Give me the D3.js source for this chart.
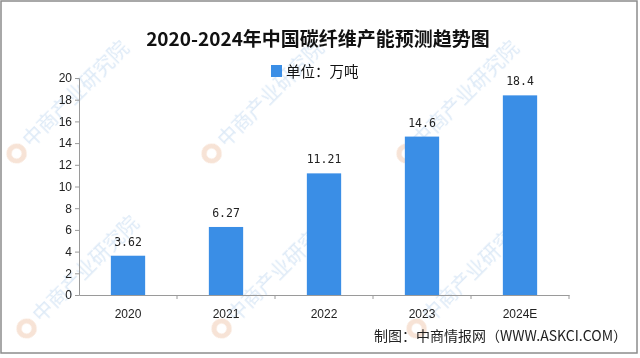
<!DOCTYPE html>
<html><head><meta charset="utf-8">
<script src="https://cdn.jsdelivr.net/npm/d3@7"></script>
<style>html,body{margin:0;padding:0;background:#fff;}</style>
</head><body>
<svg id="c" width="640" height="358"></svg>
<script>
const categories = ["2020", "2021", "2022", "2023", "2024E"];
const values = [3.62, 6.27, 11.21, 14.6, 18.4];
const valueLabels = ["3.62", "6.27", "11.21", "14.6", "18.4"];
const yTicks = [0, 2, 4, 6, 8, 10, 12, 14, 16, 18, 20];
const title = "2020-2024年中国碳纤维产能预测趋势图";
const legendLabel = "单位：万吨";
const source = "制图：中商情报网（WWW.ASKCI.COM）";
const watermark = "中商产业研究院";

const svg = d3.select("#c");
const W = 640, H = 358;
const m = {left: 79, right: 71, top: 78, bottom: 63};
const barColor = "#3a8ee6";
const axisColor = "#9a9a9a";
const cjk = "'Noto Sans CJK SC', sans-serif";

svg.append("rect").attr("x", 0).attr("y", 0).attr("width", W).attr("height", H).attr("fill", "#fff");

// watermarks (kept inside the frame)
const wm = svg.append("g").attr("opacity", 0.35)
  .attr("font-family", cjk).attr("font-size", 20);
const wmPos = [[30,150],[225,150],[420,150],[40,325],[235,325],[430,325]];
wmPos.forEach(([x,y]) => {
  const g = wm.append("g").attr("transform", `translate(${x},${y}) rotate(-45)`);
  g.append("path").attr("d", d3.arc()({innerRadius: 5, outerRadius: 10, startAngle: 0.6, endAngle: 2.6 * Math.PI - 0.6}))
    .attr("transform", "translate(-12,-7)").attr("fill", "#e9b08a");
  g.append("text").attr("x", 2).attr("y", 0).attr("fill", "#9fc3e8").text(watermark);
});

const x = d3.scaleBand().domain(categories).range([m.left, W - m.right])
  .paddingInner(0.65).paddingOuter(0.325);
const y = d3.scaleLinear().domain([0, 20]).range([H - m.bottom, m.top]);

// bars
svg.append("g").selectAll("rect").data(values).join("rect")
  .attr("x", (d, i) => x(categories[i]))
  .attr("y", d => y(d))
  .attr("width", x.bandwidth())
  .attr("height", d => y(0) - y(d))
  .attr("fill", barColor);

// value labels
svg.append("g").selectAll("text").data(values).join("text")
  .attr("x", (d, i) => x(categories[i]) + x.bandwidth() / 2)
  .attr("y", d => y(d) - 10)
  .attr("text-anchor", "middle")
  .attr("font-family", "'DejaVu Sans Mono', monospace")
  .attr("font-size", 11.5)
  .attr("fill", "#222")
  .text((d, i) => valueLabels[i]);

// y axis
const yAxis = svg.append("g").attr("transform", `translate(${m.left},0)`)
  .call(d3.axisLeft(y).tickValues(yTicks).tickSize(4).tickPadding(3).tickFormat(d3.format("d")));
yAxis.select(".domain").attr("stroke", axisColor);
yAxis.selectAll(".tick line").attr("stroke", axisColor);
yAxis.selectAll("text").attr("font-family", "'Liberation Sans', Arial, sans-serif")
  .attr("font-size", 12).attr("fill", "#222");

// x axis
const xAxis = svg.append("g").attr("transform", `translate(0,${y(0)})`)
  .call(d3.axisBottom(x).tickSize(0).tickPadding(14));
xAxis.select(".domain").attr("stroke", axisColor);
xAxis.selectAll("text").attr("font-family", "'Liberation Sans', Arial, sans-serif")
  .attr("font-size", 12).attr("fill", "#222");
// tick marks at band boundaries
svg.append("g").selectAll("line").data(categories).join("line")
  .attr("x1", d => x(d) - x.step() * x.paddingInner() / 2 + x.step())
  .attr("x2", d => x(d) - x.step() * x.paddingInner() / 2 + x.step())
  .attr("y1", y(0)).attr("y2", y(0) + 4)
  .attr("stroke", axisColor);

// title
svg.append("text").attr("x", 318).attr("y", 46).attr("text-anchor", "middle")
  .attr("font-family", cjk).attr("font-weight", "bold").attr("font-size", 19)
  .attr("fill", "#111").text(title);

// legend
svg.append("rect").attr("x", 271).attr("y", 65).attr("width", 11).attr("height", 12).attr("fill", barColor);
svg.append("text").attr("x", 286).attr("y", 76.5).attr("font-family", cjk)
  .attr("font-size", 14.5).attr("fill", "#111").text(legendLabel);

// source
svg.append("text").attr("x", 627).attr("y", 341).attr("text-anchor", "end")
  .attr("font-family", cjk).attr("font-size", 14).attr("fill", "#222").text(source);

// border
svg.append("rect").attr("x", 1).attr("y", 1).attr("width", 636).attr("height", 352)
  .attr("fill", "none").attr("stroke", "#8c8c8c").attr("stroke-width", 1.5);
</script>
</body></html>
